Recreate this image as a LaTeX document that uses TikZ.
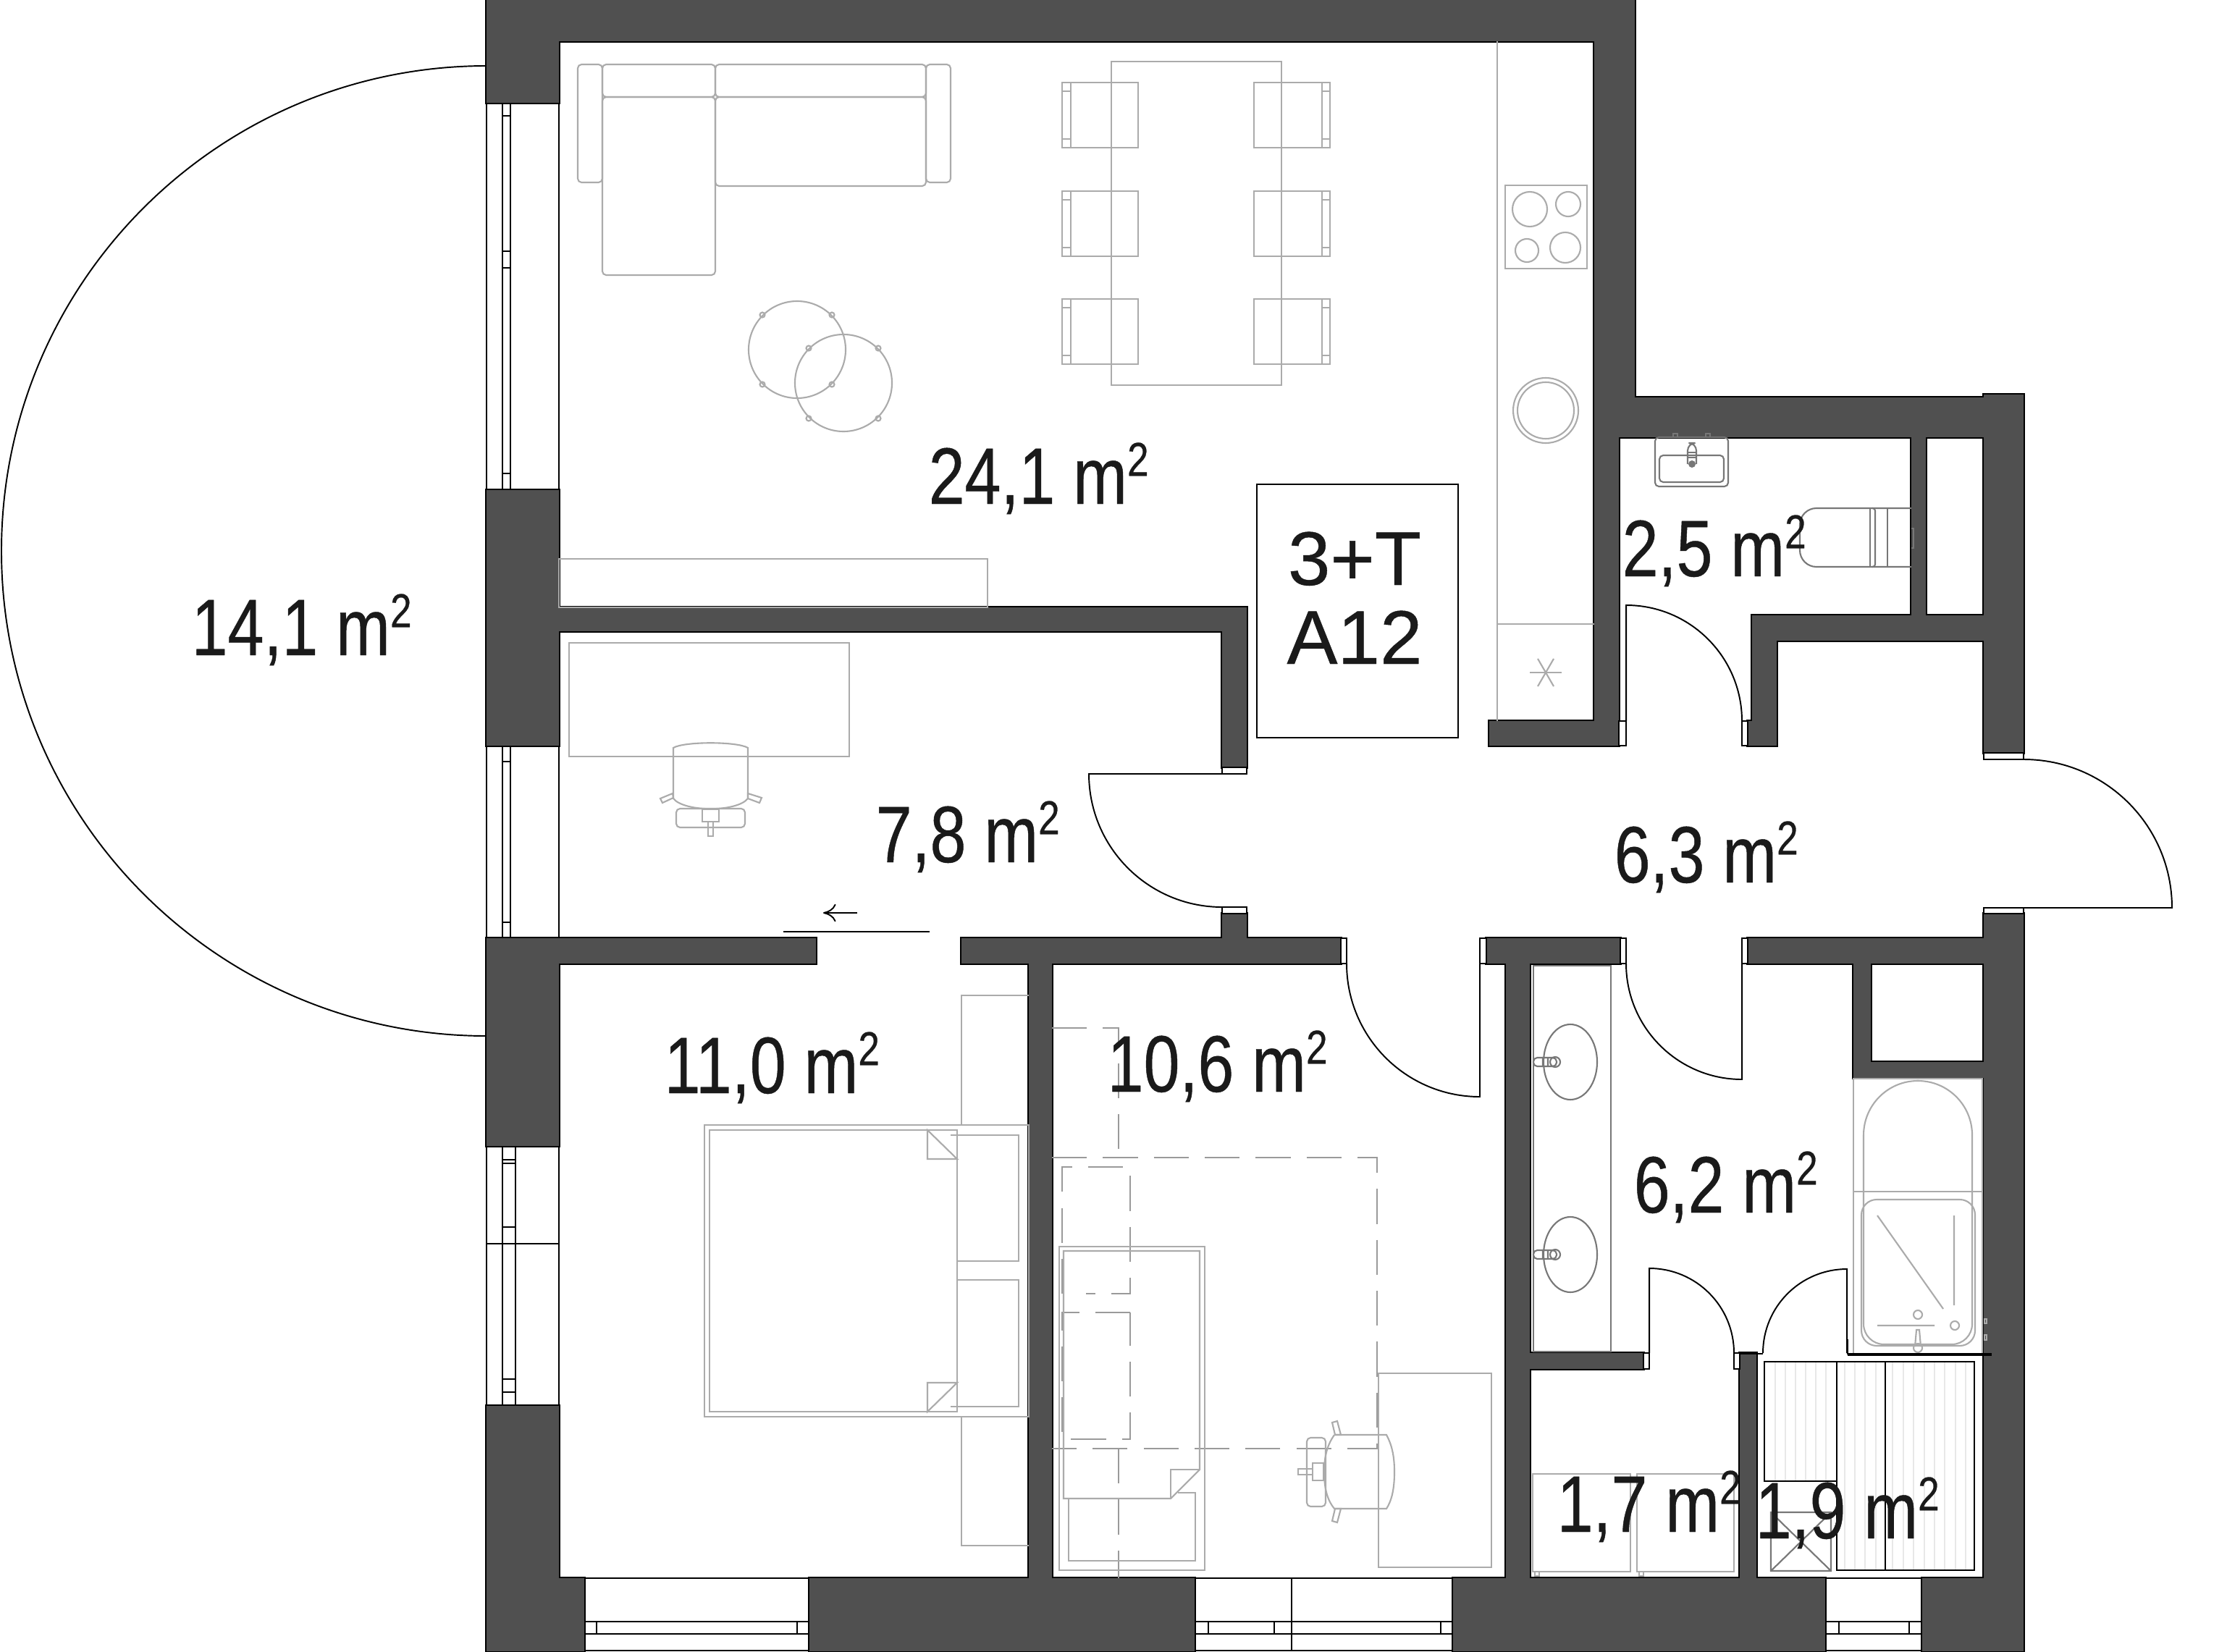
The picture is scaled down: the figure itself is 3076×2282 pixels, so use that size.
\documentclass[tikz,border=0pt]{standalone}
\usepackage{fontspec}
\usetikzlibrary{arrows.meta}
\setmainfont{Liberation Sans}
\newfontfamily\areafont[FakeStretch=0.81,FakeBold=0.4]{Liberation Sans}
\newfontfamily\typefont[FakeBold=0.4]{Liberation Sans}
\definecolor{wallgray}{HTML}{505050}
\definecolor{furngray}{HTML}{ABABAB}
\definecolor{fixgray}{HTML}{777777}
\definecolor{textblack}{HTML}{1A1A1A}
\newcommand{\areatext}[1]{\fontsize{31.5}{33}\areafont #1 m\raisebox{11pt}{\fontsize{18.7}{19}\selectfont 2}}
\newcommand{\wallrects}{672/0/2258/57, 672/0/772/142, 672/677/772/1030, 772/839/1722/872, 1688/839/1722/1060,
  1688/1262/1722/1296, 672/1296/1127/1331, 672/1296/772/1583, 1328/1296/1852/1331, 1421/1331/1453/2180,
  2053/1296/2238/1331, 2080/1296/2113/2180, 2414/1296/2740/1331, 2740/1262/2795/2281, 2560/1331/2584/1489,
  2560/1467/2740/1489, 2113/1869/2270/1891, 2403/1869/2426/2180, 672/2180/807/2281, 1118/2180/1650/2281,
  2007/2180/2521/2281, 2655/2180/2795/2281, 672/1942/772/2180, 2202/57/2258/549, 2202/549/2236/1030,
  2202/549/2740/604, 2740/545/2795/1040, 2057/996/2236/1030, 2640/604/2660/850, 2420/850/2795/885,
  2420/850/2454/1030, 2414/996/2454/1030}
\tikzset{
  wallline/.style={draw=black,line width=1.2pt},
  wallfill/.style={fill=wallgray},
  jamb/.style={draw=black,fill=white,line width=.6pt},
  thin black/.style={draw=black,line width=.55pt},
  door/.style={draw=black,line width=.55pt},
  furn/.style={draw=furngray,line width=.6pt},
  fixture/.style={draw=fixgray,line width=.6pt},
  hatch/.style={draw=black!9,line width=.6pt},
  dash line/.style={draw=furngray!90!black,line width=.6pt,dash pattern=on 13.7pt off 6.3pt},
  areatag/.style={anchor=base west,inner sep=0pt,text=textblack},
  typetag/.style={anchor=base,inner sep=0pt,text=textblack,font=\fontsize{29.9}{31}\typefont}
}
\begin{document}
\begin{tikzpicture}[x=0.01cm,y=-0.01cm]
  \useasboundingbox (0,0) rectangle (3076,2282);
  \fill[white] (0,0) rectangle (3076,2282);
  % balcony
  \draw[door] (672,91) arc[start angle=-90,end angle=-270,radius=670];
  % windows
  \foreach \ya/\yb in {142/677,1030/1296,1583/1942}{
    \draw[thin black] (672,\ya)--(672,\yb) (694,\ya)--(694,\yb) (772,\ya)--(772,\yb);
  }
  \draw[thin black] (705,142)--(705,677) (705,1030)--(705,1296) (712,1583)--(712,1942);
  \draw[thin black] (672,1718)--(772,1718);
  \foreach \yt in {160,347,370,654,1052,1274}{\draw[thin black] (694,\yt)--(705,\yt);}
  \foreach \yt in {1602,1607,1695,1905,1923}{\draw[thin black] (694,\yt)--(712,\yt);}
  \foreach \xa/\xb in {807/1118,1650/2007,2521/2655}{
    \draw[thin black] (\xa,2240)--(\xb,2240) (\xa,2257)--(\xb,2257) (\xa,2280)--(\xb,2280) (\xa,2180)--(\xb,2180);
  }
  \foreach \xt in {824,1101,1669,1760,1990,2540,2637}{\draw[thin black] (\xt,2240)--(\xt,2257);}
  \draw[thin black] (1784,2180)--(1784,2280);
  % walls
  \foreach \xa/\ya/\xb/\yb in \wallrects{\draw[wallline] (\xa,\ya) rectangle (\xb,\yb);}
  \foreach \xa/\ya/\xb/\yb in \wallrects{\fill[wallfill] (\xa,\ya) rectangle (\xb,\yb);}
  \foreach \xa/\ya/\xb/\yb in {2236/996/2246/1030,2406/996/2414/1030,1688/1060/1722/1069,1688/1253/1722/1262,
    1852/1296/1860/1331,2044/1296/2053/1331,2238/1296/2246/1331,2406/1296/2414/1331,2740/1040/2795/1049,
    2740/1254/2795/1262,2270/1869/2278/1891,2395/1869/2403/1891}{
    \draw[jamb] (\xa,\ya) rectangle (\xb,\yb);
  }
  % bath fixtures
  \draw[furn] (2560,1490) rectangle (2738,1870);
  \draw[furn] (2560,1646)--(2738,1646);
  \draw[furn] (2574,1568) arc[start angle=180,end angle=360,radius=75];
  \draw[furn,rounded corners=8pt] (2724,1568)--(2724,1857)--(2574,1857)--(2574,1568);
  \draw[furn,rounded corners=6pt] (2571,1657) rectangle (2728,1859);
  \draw[furn] (2593,1679)--(2684,1808) (2699,1679)--(2699,1803) (2593,1831)--(2672,1831);
  \draw[furn] (2649,1816) circle[radius=6] (2700,1831) circle[radius=6] (2649,1862) circle[radius=6];
  \draw[furn] (2645,1860)--(2647,1837)--(2651,1837)--(2653,1860);
  \draw[furn] (2741,1822) rectangle (2744,1828) (2741,1844) rectangle (2744,1851);
  \draw[draw=black,line width=1.1pt] (2552,1871)--(2751,1871);
  \draw[thin black] (2552,1871)--(2552,1850) (2403,1870)--(2435,1870);
  % doors
  \draw[door] (2246,996)--(2246,836) arc[start angle=-90,end angle=0,radius=160];
  \draw[door] (2795,1049) arc[start angle=-90,end angle=0,radius=205]--(2740,1254);
  \draw[door] (1688,1069)--(1504,1069) arc[start angle=180,end angle=90,radius=184];
  \draw[door] (1860,1331) arc[start angle=180,end angle=90,radius=184]--(2044,1331);
  \draw[door] (2246,1331) arc[start angle=180,end angle=90,radius=160]--(2406,1331);
  \draw[door] (2278,1869)--(2278,1752) arc[start angle=-90,end angle=0,radius=117];
  \draw[door] (2551,1869)--(2551,1753) arc[start angle=-90,end angle=-180,radius=116];
  \draw[door] (1082,1287)--(1284,1287);
  \draw[door,-{To[length=5pt,width=7pt]}] (1184,1261)--(1137,1261);
  % living room
  \begin{scope}[furn,rounded corners=1.5pt]
    \draw (798,89) rectangle (832,252);
    \draw (832,89) rectangle (988,134);
    \draw (988,89) rectangle (1279,134);
    \draw (1279,89) rectangle (1313,252);
    \draw (832,134) rectangle (988,380);
    \draw (988,134) rectangle (1279,257);
  \end{scope}
  \draw[furn] (1535,85) rectangle (1770,532);
  \foreach \yc in {114,264,413}{
    \draw[furn] (1467,\yc) rectangle (1572,\yc+90);
    \draw[furn] (1479,\yc) --(1479,\yc+90) (1467,\yc+12)--(1479,\yc+12) (1467,\yc+78)--(1479,\yc+78);
    \draw[furn] (1732,\yc) rectangle (1837,\yc+90);
    \draw[furn] (1826,\yc) --(1826,\yc+90) (1826,\yc+12)--(1837,\yc+12) (1826,\yc+78)--(1837,\yc+78);
  }
  \draw[furn] (1101,483) circle[radius=67] (1165,529) circle[radius=67];
  \foreach \xd/\yd in {1053/435,1149/435,1053/531,1149/531,1117/481,1213/481,1117/578,1213/578}{
    \draw[furn] (\xd,\yd) circle[radius=3.5];
  }
  \draw[furn] (772,772) rectangle (1364,839);
  % kitchen
  \draw[furn] (2068,57)--(2068,996) (2068,862)--(2202,862);
  \draw[furn] (2079,256) rectangle (2192,371);
  \draw[furn] (2113,289) circle[radius=24] (2166,282) circle[radius=17] (2109,346) circle[radius=16] (2162,342) circle[radius=21];
  \draw[furn] (2135,567) circle[radius=45] (2135,567) circle[radius=39];
  \foreach \ang in {0,60,120}{\draw[furn] (2135,929) ++(\ang:22)--++(\ang+180:44);}
  % study
  \draw[furn] (786,888) rectangle (1173,1045);
  \draw[furn] (930,1033) .. controls (945,1024) and (1018,1024) .. (1033,1033)--(1033,1103) .. controls (1018,1122) and (945,1122) .. (930,1103)--cycle;
  \draw[furn,rounded corners=1.5pt] (934,1117) rectangle (1029,1143);
  \draw[furn] (970,1118) rectangle (993,1135) (978,1135) rectangle (985,1155);
  \draw[furn] (912,1103)--(929,1096)--(930,1102)--(915,1109)--cycle (1033,1096)--(1052,1102)--(1049,1109)--(1033,1103)--cycle;
  % bedroom
  \draw[furn] (973,1554) rectangle (1421,1957);
  \draw[furn] (980,1561) rectangle (1322,1950);
  \draw[furn] (1281,1561)--(1322,1601)--(1281,1601)--cycle (1281,1950)--(1322,1910)--(1281,1910)--cycle;
  \draw[furn] (1313,1568)--(1407,1568)--(1407,1742)--(1322,1742);
  \draw[furn] (1322,1768)--(1407,1768)--(1407,1943)--(1313,1943);
  \draw[furn] (1328,1554)--(1328,1375)--(1421,1375) (1328,1957)--(1328,2135)--(1421,2135);
  % bedroom 2
  \draw[dash line] (1453,1420)--(1545,1420)--(1545,1599);
  \draw[dash line] (1453,1599)--(1902,1599)--(1902,2001)--(1453,2001);
  \draw[dash line] (1545,2001)--(1545,2180);
  \draw[dash line] (1467,1787)--(1467,1612)--(1561,1612)--(1561,1787)--(1500,1787);
  \draw[dash line] (1561,1813)--(1467,1813)--(1467,1988)--(1561,1988)--cycle;
  \draw[furn] (1463,1722) rectangle (1664,2169);
  \draw[furn] (1469,2070)--(1469,1728)--(1657,1728)--(1657,2030)--(1617,2070)--cycle;
  \draw[furn] (1617,2070)--(1617,2030)--(1657,2030);
  \draw[furn] (1476,2071)--(1476,2156)--(1651,2156)--(1651,2062)--(1627,2062);
  \draw[furn] (1904,1897) rectangle (2060,2165);
  \draw[furn] (1843,1982)--(1915,1982) .. controls (1922,1995) and (1926,2010) .. (1926,2033) .. controls (1926,2058) and (1922,2073) .. (1915,2084)--(1843,2084) .. controls (1834,2073) and (1829,2058) .. (1829,2033) .. controls (1829,2010) and (1834,1995) .. (1843,1982);
  \draw[furn,rounded corners=1.5pt] (1805,1986)--(1831,1986)--(1831,2081)--(1805,2081)--cycle;
  \draw[furn] (1813,2021) rectangle (1828,2045) (1793,2029) rectangle (1813,2037);
  \draw[furn] (1840,1965)--(1847,1963)--(1852,1982)--(1844,1982)--cycle (1844,2084)--(1852,2084)--(1847,2103)--(1840,2101)--cycle;
  % bathroom
  \draw[fixture] (2118,1334) rectangle (2225,1867);
  \foreach \ys in {1467,1733}{
    \draw[fixture] (2169,\ys) ellipse[x radius=37,y radius=52];
    \draw[fixture,rounded corners=1.5pt] (2118,\ys-6) rectangle (2150,\ys+6);
    \draw[fixture] (2148,\ys) circle[radius=7] (2131,\ys-6)--(2131,\ys+6) (2138,\ys-6)--(2138,\ys+6);
  }
  % toilet room
  \draw[fixture,rounded corners=1.5pt] (2286,604) rectangle (2387,672);
  \draw[fixture,rounded corners=1.5pt] (2292,629) rectangle (2381,666);
  \draw[fixture] (2311,599) rectangle (2317,604) (2356,599) rectangle (2362,604);
  \draw[fixture,rounded corners=3pt] (2331,641)--(2331,612)--(2343,612)--(2343,641);
  \fill[fixgray] (2337,641) circle[radius=5];
  \draw[fixture] (2331,625)--(2343,625) (2331,632)--(2343,632);
  \draw[fixture,rounded corners=6.5pt] (2640,702)--(2486,702)--(2486,783)--(2640,783);
  \draw[fixture] (2583,702)--(2583,783) (2607,702)--(2607,783);
  \draw[fixture,rounded corners=1pt] (2586,702)--(2590,702)--(2590,783)--(2586,783);
  \draw[fixture] (2640,730)--(2643,730)--(2643,757)--(2640,757);
  % utility
  \draw[furn] (2117,2036) rectangle (2252,2171) (2261,2036) rectangle (2395,2171);
  \draw[furn] (2120,2171) rectangle (2126,2177) (2264,2171) rectangle (2270,2177);
  \foreach \xh in {2452,2466,...,2526}{\draw[hatch] (\xh,1881)--(\xh,2046);}
  \foreach \xh in {2548,2562,2576,2591,2614,2629,2643,2658,2672,2686,2701,2715}{\draw[hatch] (\xh,1881)--(\xh,2169);}
  \draw[fixture] (2446,2089) rectangle (2529,2170) (2446,2089)--(2529,2170) (2529,2089)--(2446,2170);
  \draw[thin black] (2437,1881) rectangle (2537,2046);
  \draw[thin black] (2537,1881) rectangle (2727,2169) (2604,1881)--(2604,2169);
  % type box
  \draw[jamb] (1736,669) rectangle (2014,1019);
  % areas
  \node[areatag] (balconyarea) at (264,905) {\areatext{14,1}};
  \node[areatag] (livingarea) at (1282,696) {\areatext{24,1}};
  \node[areatag] (studyarea) at (1209,1191) {\areatext{7,8}};
  \node[areatag] (hallarea) at (2229,1219) {\areatext{6,3}};
  \node[areatag] (toiletarea) at (2240,796) {\areatext{2,5}};
  \node[areatag] (bedroomarea) at (917,1510) {\areatext{11,0}};
  \node[areatag] (bedroomtwoarea) at (1529,1508) {\areatext{10,6}};
  \node[areatag] (bathroomarea) at (2256,1675) {\areatext{6,2}};
  \node[areatag] (dressingarea) at (2150,2116) {\areatext{1,7}};
  \node[areatag] (storagearea) at (2424,2125) {\areatext{1,9}};
  \node[typetag] (typelabel) at (1871,808) {3+T};
  \node[typetag] (unitlabel) at (1871,917) {A12};
\end{tikzpicture}
\end{document}
